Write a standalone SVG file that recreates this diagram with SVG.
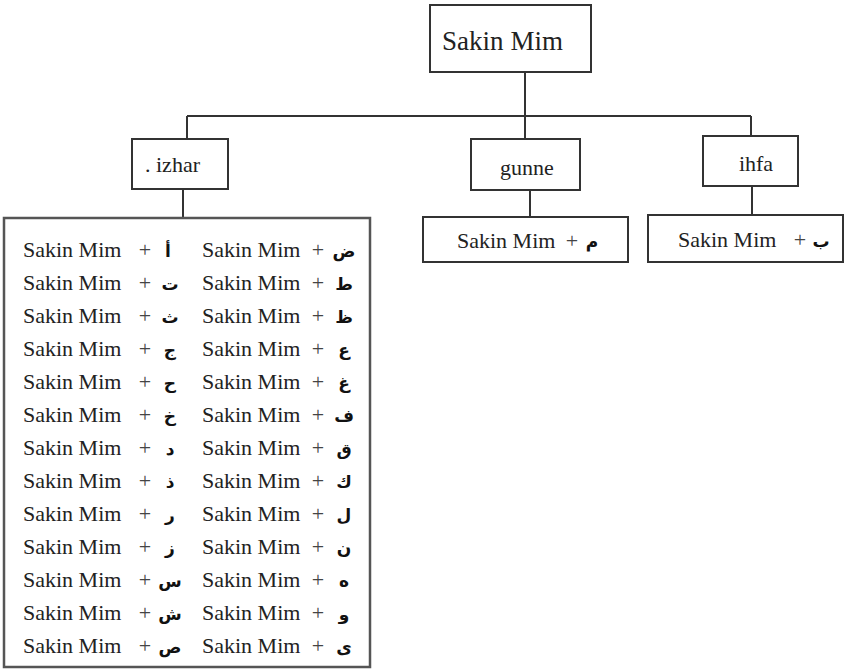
<svg xmlns="http://www.w3.org/2000/svg" width="845" height="670" viewBox="0 0 845 670">
<style>
.box{fill:#fff;stroke:#333;stroke-width:2}
.ln{stroke:#333;stroke-width:2;fill:none}
.t{font-family:"Liberation Serif","Times New Roman",serif;fill:#222}
.s{font-size:22px}
.p{font-family:"Liberation Serif",serif;font-size:22px;fill:#444;text-anchor:middle}
.a{font-family:"DejaVu Sans","Noto Sans",sans-serif;font-size:17px;font-weight:bold;fill:#111;text-anchor:middle}
</style>
<rect width="845" height="670" fill="#fff"/>
<g id="connectors">
<line class="ln" x1="525" y1="72" x2="525" y2="116"/>
<line class="ln" x1="187" y1="116" x2="751" y2="116"/>
<line class="ln" x1="187" y1="116" x2="187" y2="139"/>
<line class="ln" x1="525" y1="116" x2="525" y2="139"/>
<line class="ln" x1="751" y1="116" x2="751" y2="136"/>
<line class="ln" x1="183" y1="189" x2="183" y2="218"/>
<line class="ln" x1="530" y1="190" x2="530" y2="217"/>
<line class="ln" x1="752" y1="186" x2="752" y2="215"/>
</g>
<g id="root">
<rect class="box" x="430" y="5" width="161" height="67"/>
<text class="t" x="442" y="50" font-size="27" textLength="121">Sakin Mim</text>
</g>
<g id="izhar">
<rect class="box" x="132" y="139" width="96" height="50"/>
<text class="t s" x="145" y="172" font-size="21">. izhar</text>
</g>
<g id="gunne">
<rect class="box" x="471" y="139" width="109" height="51"/>
<text class="t s" x="527" y="175" text-anchor="middle">gunne</text>
</g>
<g id="ihfa">
<rect class="box" x="703" y="136" width="95" height="50"/>
<text class="t s" x="756" y="171" text-anchor="middle">ihfa</text>
</g>
<g id="gunne-rule">
<rect class="box" x="423" y="217" width="205" height="45"/>
<text class="t s" x="457" y="248">Sakin Mim</text>
<text class="p" x="572" y="248">+</text>
<text class="a" x="592" y="248">م</text>
</g>
<g id="ihfa-rule">
<rect class="box" x="648" y="215" width="195" height="47"/>
<text class="t s" x="678" y="247">Sakin Mim</text>
<text class="p" x="800" y="247">+</text>
<text class="a" x="821" y="247">ب</text>
</g>
<g id="izhar-rules">
<rect class="box" x="4" y="218" width="366" height="449" style="stroke:#555;stroke-width:2.5"/>
<g class="t s">
<text x="23" y="257">Sakin Mim</text><text x="202" y="257">Sakin Mim</text>
<text x="23" y="290">Sakin Mim</text><text x="202" y="290">Sakin Mim</text>
<text x="23" y="323">Sakin Mim</text><text x="202" y="323">Sakin Mim</text>
<text x="23" y="356">Sakin Mim</text><text x="202" y="356">Sakin Mim</text>
<text x="23" y="389">Sakin Mim</text><text x="202" y="389">Sakin Mim</text>
<text x="23" y="422">Sakin Mim</text><text x="202" y="422">Sakin Mim</text>
<text x="23" y="455">Sakin Mim</text><text x="202" y="455">Sakin Mim</text>
<text x="23" y="488">Sakin Mim</text><text x="202" y="488">Sakin Mim</text>
<text x="23" y="521">Sakin Mim</text><text x="202" y="521">Sakin Mim</text>
<text x="23" y="554">Sakin Mim</text><text x="202" y="554">Sakin Mim</text>
<text x="23" y="587">Sakin Mim</text><text x="202" y="587">Sakin Mim</text>
<text x="23" y="620">Sakin Mim</text><text x="202" y="620">Sakin Mim</text>
<text x="23" y="653">Sakin Mim</text><text x="202" y="653">Sakin Mim</text>
</g>
<g class="p">
<text x="145" y="257">+</text><text x="318" y="257">+</text>
<text x="145" y="290">+</text><text x="318" y="290">+</text>
<text x="145" y="323">+</text><text x="318" y="323">+</text>
<text x="145" y="356">+</text><text x="318" y="356">+</text>
<text x="145" y="389">+</text><text x="318" y="389">+</text>
<text x="145" y="422">+</text><text x="318" y="422">+</text>
<text x="145" y="455">+</text><text x="318" y="455">+</text>
<text x="145" y="488">+</text><text x="318" y="488">+</text>
<text x="145" y="521">+</text><text x="318" y="521">+</text>
<text x="145" y="554">+</text><text x="318" y="554">+</text>
<text x="145" y="587">+</text><text x="318" y="587">+</text>
<text x="145" y="620">+</text><text x="318" y="620">+</text>
<text x="145" y="653">+</text><text x="318" y="653">+</text>
</g>
<g class="a">
<text x="168" y="257">أ</text><text x="344" y="257">ض</text>
<text x="170" y="290">ت</text><text x="344" y="290">ط</text>
<text x="170" y="323">ث</text><text x="344" y="323">ظ</text>
<text x="170" y="356">ج</text><text x="344" y="356">ع</text>
<text x="170" y="389">ح</text><text x="344" y="389">غ</text>
<text x="170" y="422">خ</text><text x="344" y="422">ف</text>
<text x="170" y="455">د</text><text x="344" y="455">ق</text>
<text x="170" y="488">ذ</text><text x="344" y="488">ك</text>
<text x="170" y="521">ر</text><text x="344" y="521">ل</text>
<text x="170" y="554">ز</text><text x="344" y="554">ن</text>
<text x="170" y="587">س</text><text x="344" y="587">ه</text>
<text x="170" y="620">ش</text><text x="344" y="620">و</text>
<text x="170" y="653">ص</text><text x="344" y="653">ى</text>
</g>
</g>
</svg>
